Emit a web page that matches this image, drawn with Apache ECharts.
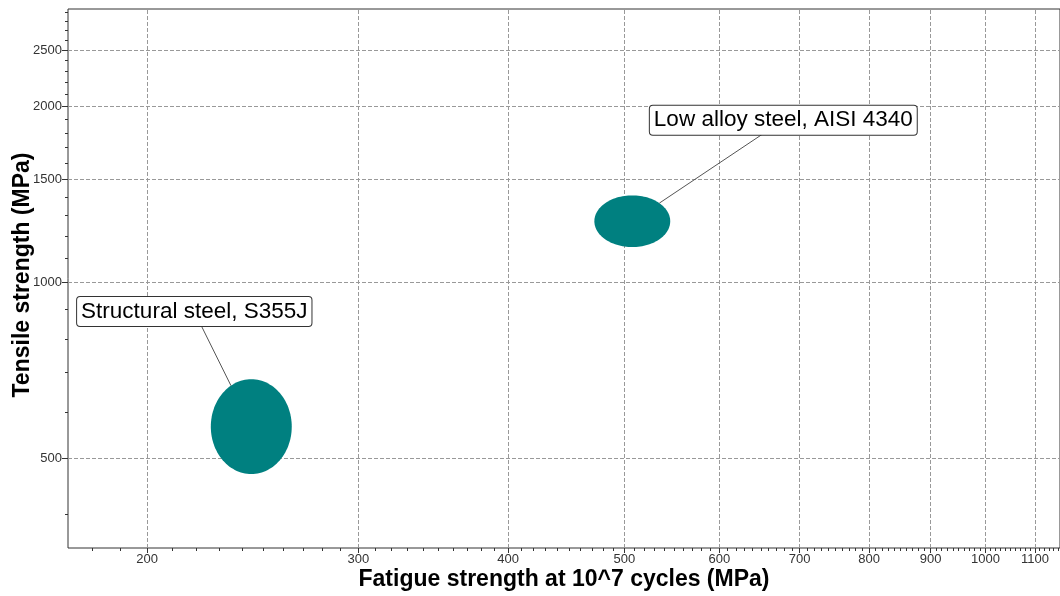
<!DOCTYPE html>
<html>
<head>
<meta charset="utf-8">
<script src="https://cdn.jsdelivr.net/npm/echarts@6/dist/echarts.min.js"></script>
<style>html,body{margin:0;padding:0;background:#fff}#c{width:1060px;height:596px}</style>
</head>
<body>
<div id="c"></div>
<script>
// ---- data ----
const materials = ['Structural steel, S355J', 'Low alloy steel, AISI 4340'];
const fatigueMin = [226, 472];     // MPa, x range low
const fatigueMax = [264, 546];     // MPa, x range high
const tensileMin = [470, 1150];    // MPa, y range low
const tensileMax = [683, 1410];    // MPa, y range high
const xMajorTicks = [200, 300, 400, 500, 600, 700, 800, 900, 1000, 1100];
const yMajorTicks = [500, 1000, 1500, 2000, 2500];
const xRange = [171.8, 1154];
const yRange = [351.1, 2940];
const xTitle = 'Fatigue strength at 10^7 cycles (MPa)';
const yTitle = 'Tensile strength (MPa)';

// ---- layout / style ----
const labelOffsets = [[-57, -115], [151, -101]]; // label box centre relative to ellipse centre (px)
const FONT = '"Liberation Sans", Arial, Helvetica, sans-serif';
const TEAL = '#008080';

const xMinorTicks = [];
for (let v = 180; v <= 1150; v += 10) if (!xMajorTicks.includes(v)) xMinorTicks.push(v);
const yMinorTicks = [];
for (let v = 400; v <= 2900; v += 100) if (!yMajorTicks.includes(v)) yMinorTicks.push(v);

const ticks = [];
xMajorTicks.forEach(v => ticks.push({axis: 'x', v, major: true}));
xMinorTicks.forEach(v => ticks.push({axis: 'x', v, major: false}));
yMajorTicks.forEach(v => ticks.push({axis: 'y', v, major: true}));
yMinorTicks.forEach(v => ticks.push({axis: 'y', v, major: false}));

const crisp = p => Math.round(p - 0.5) + 0.5;

function renderTick(params, api) {
  const t = ticks[params.dataIndex];
  const ch = [];
  if (t.axis === 'x') {
    const b = api.coord([t.v, yRange[0]]);
    const top = api.coord([t.v, yRange[1]]);
    const x = crisp(b[0]);
    if (t.major) {
      ch.push({type: 'line', shape: {x1: x, y1: b[1], x2: x, y2: top[1]},
        style: {stroke: '#999', lineWidth: 1, lineDash: [4, 2]}});
      ch.push({type: 'line', shape: {x1: x, y1: b[1], x2: x, y2: b[1] + 5},
        style: {stroke: '#333', lineWidth: 1}});
      ch.push({type: 'text', style: {text: String(t.v), x: b[0], y: b[1] + 5,
        align: 'center', verticalAlign: 'top', font: '13px ' + FONT, fill: '#333'}});
    } else {
      ch.push({type: 'line', shape: {x1: x, y1: b[1], x2: x, y2: b[1] + 3},
        style: {stroke: '#333', lineWidth: 1}});
    }
  } else {
    const l = api.coord([xRange[0], t.v]);
    const r = api.coord([xRange[1], t.v]);
    const y = crisp(l[1]);
    if (t.major) {
      ch.push({type: 'line', shape: {x1: l[0], y1: y, x2: r[0], y2: y},
        style: {stroke: '#999', lineWidth: 1, lineDash: [4, 2]}});
      ch.push({type: 'line', shape: {x1: l[0] - 6, y1: y, x2: l[0], y2: y},
        style: {stroke: '#333', lineWidth: 1}});
      ch.push({type: 'text', style: {text: String(t.v), x: l[0] - 6, y: l[1],
        align: 'right', verticalAlign: 'middle', font: '13px ' + FONT, fill: '#333'}});
    } else {
      ch.push({type: 'line', shape: {x1: l[0] - 3, y1: y, x2: l[0], y2: y},
        style: {stroke: '#333', lineWidth: 1}});
    }
  }
  return {type: 'group', children: ch};
}

function renderMaterial(params, api) {
  const i = params.dataIndex;
  const p0 = api.coord([api.value(0), api.value(2)]);
  const p1 = api.coord([api.value(1), api.value(3)]);
  const cx = (p0[0] + p1[0]) / 2, cy = (p0[1] + p1[1]) / 2;
  const rx = Math.abs(p1[0] - p0[0]) / 2, ry = Math.abs(p1[1] - p0[1]) / 2;
  const pts = [];
  for (let k = 0; k < 120; k++) {
    const a = k / 120 * 2 * Math.PI;
    pts.push([cx + rx * Math.cos(a), cy + ry * Math.sin(a)]);
  }
  const lx = cx + labelOffsets[i][0], ly = cy + labelOffsets[i][1];
  const dx = lx - cx, dy = ly - cy;
  const t = 1 / Math.sqrt((dx / rx) ** 2 + (dy / ry) ** 2);
  const ex = cx + dx * t, ey = cy + dy * t;
  return {type: 'group', children: [
    {type: 'polygon', shape: {points: pts}, style: {fill: TEAL}, z2: 1},
    {type: 'line', shape: {x1: lx, y1: ly, x2: ex, y2: ey}, style: {stroke: '#555', lineWidth: 1}, z2: 2},
    {type: 'text', z2: 10, style: {text: materials[i], x: lx, y: ly, align: 'center', verticalAlign: 'middle',
      font: '22.5px ' + FONT, fill: '#000', lineHeight: 23,
      backgroundColor: '#fff', borderColor: '#333', borderWidth: 1, borderRadius: 3, padding: [3, 4, 3, 4]}}
  ]};
}

const chart = echarts.init(document.getElementById('c'), null, {renderer: 'canvas'});
chart.setOption({
  animation: false,
  backgroundColor: '#fff',
  grid: {left: 68, right: -1, top: 9, bottom: 48, show: true, borderColor: '#333', borderWidth: 1, backgroundColor: 'transparent'},
  xAxis: {
    type: 'log', logBase: 10, min: xRange[0], max: xRange[1],
    name: xTitle, nameLocation: 'middle', nameGap: 20,
    nameTextStyle: {fontFamily: FONT, fontSize: 23, fontWeight: 'bold', color: '#000'},
    axisLine: {show: false}, axisTick: {show: false}, axisLabel: {show: false}, splitLine: {show: false}
  },
  yAxis: {
    type: 'log', logBase: 10, min: yRange[0], max: yRange[1],
    name: yTitle, nameLocation: 'middle', nameGap: 34,
    nameTextStyle: {fontFamily: FONT, fontSize: 23, fontWeight: 'bold', color: '#000', padding: [0, 0, 0, 7]},
    axisLine: {show: false}, axisTick: {show: false}, axisLabel: {show: false}, splitLine: {show: false}
  },
  series: [
    {
      type: 'custom', name: 'ticks', silent: true, clip: false, z: 1,
      renderItem: renderTick,
      encode: {x: 0, y: 1},
      data: ticks.map(t => t.axis === 'x' ? [t.v, yRange[0]] : [xRange[0], t.v])
    },
    {
      type: 'custom', name: 'materials', silent: true, clip: false, z: 5,
      renderItem: renderMaterial,
      encode: {x: [0, 1], y: [2, 3]},
      data: materials.map((m, i) => [fatigueMin[i], fatigueMax[i], tensileMin[i], tensileMax[i]])
    }
  ]
});
</script>
</body>
</html>
